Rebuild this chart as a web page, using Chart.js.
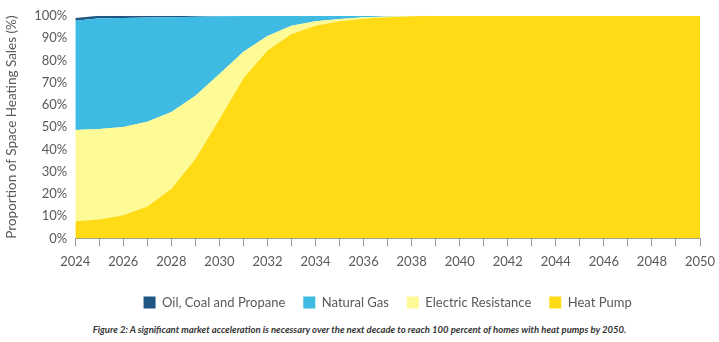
<!DOCTYPE html>
<html>
<head>
<meta charset="utf-8">
<script src="https://cdn.jsdelivr.net/npm/chart.js@4.4.0/dist/chart.umd.min.js"></script>
<style>
  html, body { margin: 0; padding: 0; background: #fff; }
  #wrap { position: relative; width: 719px; height: 342px; }
  #c { position: absolute; left: 0; top: 0; }
  #cap { position: absolute; left: 0; width: 719px; top: 324px; text-align: center;
         font-family: Lato, "Liberation Sans", Arial, sans-serif;
         font-style: italic; font-weight: bold; font-size: 9.5px; color: #333; white-space: nowrap; }
</style>
</head>
<body>
<div id="wrap">
  <canvas id="c" width="719" height="324"></canvas>
  <div id="cap">Figure 2: A significant market acceleration is necessary over the next decade to reach 100 percent of homes with heat pumps by 2050.</div>
</div>
<script>
const years = [2024,2025,2026,2027,2028,2029,2030,2031,2032,2033,2034,2035,2036,2037,2038,2039,2040,2041,2042,2043,2044,2045,2046,2047,2048,2049,2050];
const heatPump = [7.7,8.5,10.4,14.3,22.3,35.7,53.5,71.9,84.4,91.8,95.5,97.5,98.7,99.4,99.8,100,100,100,100,100,100,100,100,100,100,100,100];
const electricResistance = [41.0,40.7,39.6,38.1,34.5,28.4,20.3,12.0,6.5,3.7,2.0,1.1,0.6,0.3,0.1,0,0,0,0,0,0,0,0,0,0,0,0];
const oilCoalPropane = [1.2,1.1,1.0,0.8,0.6,0.4,0.2,0.1,0,0,0,0,0,0,0,0,0,0,0,0,0,0,0,0,0,0,0];
const naturalGas = [49.1,49.7,49.0,46.8,42.6,35.5,26.0,16.0,9.1,4.5,2.5,1.4,0.7,0.3,0.1,0,0,0,0,0,0,0,0,0,0,0,0];
const yTicks = [0,10,20,30,40,50,60,70,80,90,100];

const FONT = 'Lato, "Liberation Sans", Arial, sans-serif';
const GRAY = '#595959';

function ds(label, data, color, fill) {
  return { label, data, backgroundColor: color, borderColor: color, borderWidth: 0,
           pointRadius: 0, pointHoverRadius: 0, fill, tension: 0 };
}

new Chart(document.getElementById('c'), {
  type: 'line',
  data: {
    labels: years.map(String),
    datasets: [
      ds('Heat Pump', heatPump, '#fedb14', 'origin'),
      ds('Electric Resistance', electricResistance, '#fefa96', '-1'),
      ds('Natural Gas', naturalGas, '#3fbbe3', '-1'),
      ds('Oil, Coal and Propane', oilCoalPropane, '#1f5583', '-1')
    ]
  },
  options: {
    responsive: false,
    animation: false,
    layout: { padding: { left: 4, right: 12, top: 14, bottom: 5 } },
    plugins: {
      tooltip: { enabled: false },
      legend: {
        position: 'bottom',
        reverse: true,
        fullSize: false,
        labels: {
          boxWidth: 12, boxHeight: 12, padding: 18,
          color: GRAY,
          font: { family: FONT, size: 13 }
        }
      }
    },
    scales: {
      x: {
        stacked: true,
        offset: false,
        grid: { display: true, drawOnChartArea: false, color: '#9a9a9a', tickLength: 8 },
        border: { display: true, color: '#9a9a9a' },
        ticks: {
          autoSkip: false, maxRotation: 0, color: GRAY, padding: 8,
          font: { family: FONT, size: 13 },
          callback: function(v, i) { return years[i] % 2 === 0 ? String(years[i]) : ''; }
        },
        afterFit: function(scale) { scale.paddingRight = 19; }
      },
      y: {
        stacked: true,
        min: 0, max: 100,
        afterBuildTicks: function(axis) { axis.ticks = yTicks.map(v => ({ value: v })); },
        grid: { display: false, drawTicks: false },
        border: { display: false },
        ticks: {
          autoSkip: false,
          color: GRAY, padding: 8,
          font: { family: FONT, size: 13 },
          callback: v => v + '%'
        },
        title: {
          display: true, text: 'Proportion of Space Heating Sales (%)',
          color: GRAY, font: { family: FONT, size: 13.5 }, padding: { top: 0, bottom: 6 }
        }
      }
    }
  }
});
</script>
</body>
</html>
